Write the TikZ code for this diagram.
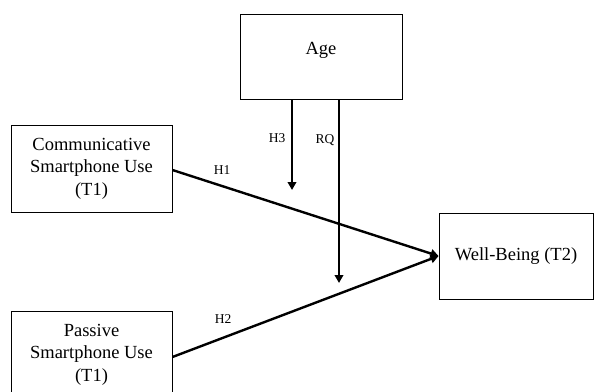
\documentclass[tikz,border=0pt]{standalone}
\usepackage{fontspec}
\setmainfont{Liberation Serif}
\usetikzlibrary{arrows.meta}
\begin{document}
\begin{tikzpicture}[x=1pt,y=-1pt,
  box/.style={draw, line width=0.9pt, rectangle, align=center, inner sep=0pt,
    font=\fontsize{18.5}{22.5}\selectfont},
  txt/.style={align=center, inner sep=0pt, font=\fontsize{18.5}{22.5}\selectfont},
  path/.style={line width=2.4pt, -{Triangle[length=8pt,width=8.5pt]}},
  lab/.style={font=\fontsize{13.5}{15}\selectfont, inner sep=0pt}]
\useasboundingbox (0,0) rectangle (594,391);
\clip (0,0) rectangle (594,391);
\node[box, minimum width=162pt, minimum height=85pt] (age) at (321,56.5) {};
\node[txt] (agetext) at (321,50) {Age};
\node[box, minimum width=161pt, minimum height=87pt] (comm) at (91.5,168.5) {Communicative\\Smartphone Use\\(T1)};
\node[box, minimum width=161pt, minimum height=87pt] (pass) at (91.5,354.5) {Passive\\Smartphone Use\\(T1)};
\node[box, minimum width=154pt, minimum height=86pt] (wb) at (516,256) {Well-Being (T2)};
\coordinate (h3end) at (292,190);
\coordinate (rqend) at (339,283);
\draw[path] ([yshift=-1.5pt]comm.east) -- (wb.west);
\draw[path] ([yshift=-2.5pt]pass.east) -- (wb.west);
\draw[path] (age.south -| h3end) -- (h3end);
\draw[path] (age.south -| rqend) -- (rqend);
\node[lab] (h1) at (222,170) {H1};
\node[lab] (h2) at (223,319) {H2};
\node[lab] (h3) at (277,138) {H3};
\node[lab] (rq) at (325,140) {RQ};
\end{tikzpicture}
\end{document}
